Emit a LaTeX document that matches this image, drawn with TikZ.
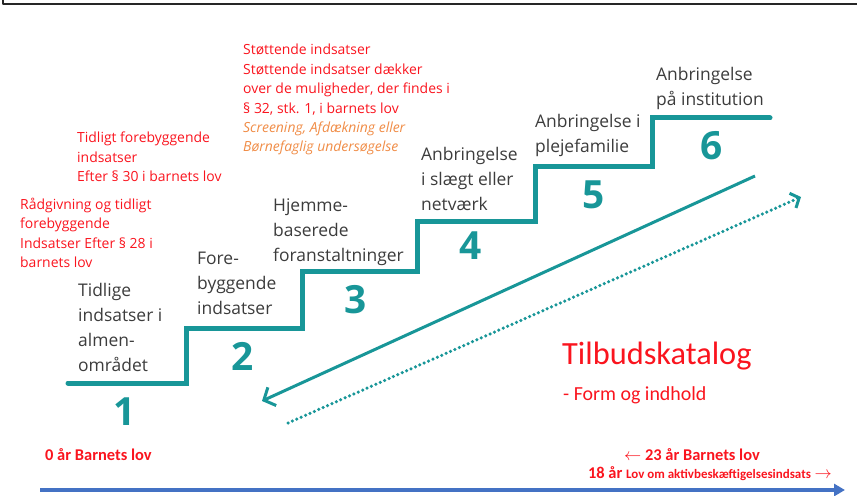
\documentclass[tikz,border=0pt]{standalone}
\usepackage{fontspec}
\setmainfont{Open Sans}
\newfontfamily\carlito{Carlito}
\usepackage{tikz}
\usetikzlibrary{arrows,arrows.meta,shapes}
\definecolor{stairteal}{RGB}{24,150,152}
\definecolor{labelgray}{RGB}{60,60,60}
\definecolor{lawred}{RGB}{250,20,30}
\definecolor{screenorange}{RGB}{240,140,70}
\definecolor{axisblue}{RGB}{68,114,196}

\begin{document}
\begin{tikzpicture}[>=latex',line join=bevel,x=1bp,y=-1bp,
  steplabel/.style={anchor=north west,align=left,inner sep=0pt,text=labelgray,
    font=\fontsize{17.5}{25}\selectfont},
  lawnote/.style={anchor=north west,align=left,inner sep=0pt,text=lawred,
    font=\fontsize{14}{19.5}\selectfont},
  stepnum/.style={inner sep=0pt,text=stairteal,font=\fontsize{39}{39}\selectfont\bfseries},
  agenote/.style={inner sep=0pt,text=lawred,font=\carlito\bfseries\fontsize{16.5}{18}\selectfont},
]
  \useasboundingbox (0,0) rectangle (857,496);
%%
  % Frame edge at the top
  \draw [line width=2.5bp,black!85] (3,-3) -- (3,4) -- (860,4);
  % Edge: stairs
  \draw [stairteal,line width=5bp,line cap=round,line join=miter]
    (68,383) -- (186,383) -- (186,328) -- (302,328) -- (302,272) -- (417,272)
    -- (417,222) -- (535,222) -- (535,167) -- (652,167) -- (652,118) -- (770,118);
  % Node: step numbers
  \node [stepnum] (num1) at (125,412) {1};
  \node [stepnum] (num2) at (243,356) {2};
  \node [stepnum] (num3) at (356,300) {3};
  \node [stepnum] (num4) at (471,246) {4};
  \node [stepnum] (num5) at (594,195) {5};
  \node [stepnum] (num6) at (712,146) {6};
  % Node: step labels
  \node [steplabel] (lab1) at (78,283) {Tidlige\\indsatser i\\almen-\\området};
  \node [steplabel] (lab2) at (197,252) {Fore-\\byggende\\indsatser};
  \node [steplabel] (lab3) at (273,199) {Hjemme-\\baserede\\foranstaltninger};
  \node [steplabel] (lab4) at (421,147) {Anbringelse\\i slægt eller\\netværk};
  \node [steplabel] (lab5) at (535,114) {Anbringelse i\\plejefamilie};
  \node [steplabel] (lab6) at (656,67) {Anbringelse\\på institution};
  % Node: law notes
  \node [lawnote] (note28) at (20,198) {Rådgivning og tidligt\\forebyggende\\Indsatser Efter § 28 i\\barnets lov};
  \node [lawnote] (note30) at (77,132) {Tidligt forebyggende\\indsatser\\Efter § 30 i barnets lov};
  \node [lawnote] (note32) at (243,44) {Støttende indsatser\\Støttende indsatser dækker\\over de muligheder, der findes i\\§ 32, stk. 1, i barnets lov\\
    \textcolor{screenorange}{\itshape Screening, Afdækning eller}\\\textcolor{screenorange}{\itshape Børnefaglig undersøgelse}};
  % Node: title
  \node [anchor=base west,inner sep=0pt,text=lawred,font=\carlito\fontsize{32.5}{32}\selectfont] (title) at (562,364) {Tilbudskatalog};
  \node [anchor=base west,inner sep=0pt,text=lawred,font=\carlito\fontsize{20}{20}\selectfont] (subtitle) at (563,400) {- Form og indhold};
  % Edge: down and up arrows
  \coordinate (downstart) at (755,176);
  \coordinate (downend) at (262,401);
  \coordinate (upstart) at (288,423);
  \coordinate (upend) at (801,197);
  \draw [-{Straight Barb[length=9bp,width=20bp,line width=3bp]},stairteal,line width=3bp] (downstart) -- (downend);
  \draw [-{Straight Barb[length=7bp,width=16bp,line width=3bp]},stairteal,line width=3.5bp,line cap=round,
    dash pattern=on 0bp off 4.8bp] (upstart) -- (upend);
  % Node: age notes
  \node [agenote,anchor=base west] (age0) at (45,460) {0 år Barnets lov};
  \node [agenote,anchor=base east] (age23) at (760,460) {$\leftarrow$ 23 år Barnets lov};
  \node [agenote,anchor=base east] (age18) at (832,478) {18 år {\fontsize{13}{14}\selectfont Lov om aktivbeskæftigelsesindsats} $\rightarrow$};
  % Edge: time axis
  \coordinate (axisstart) at (40,490);
  \coordinate (axisend) at (845,490);
  \draw [-{Triangle[length=11bp,width=12bp]},axisblue,line width=3.5bp] (axisstart) -- (axisend);
%
\end{tikzpicture}
\end{document}
